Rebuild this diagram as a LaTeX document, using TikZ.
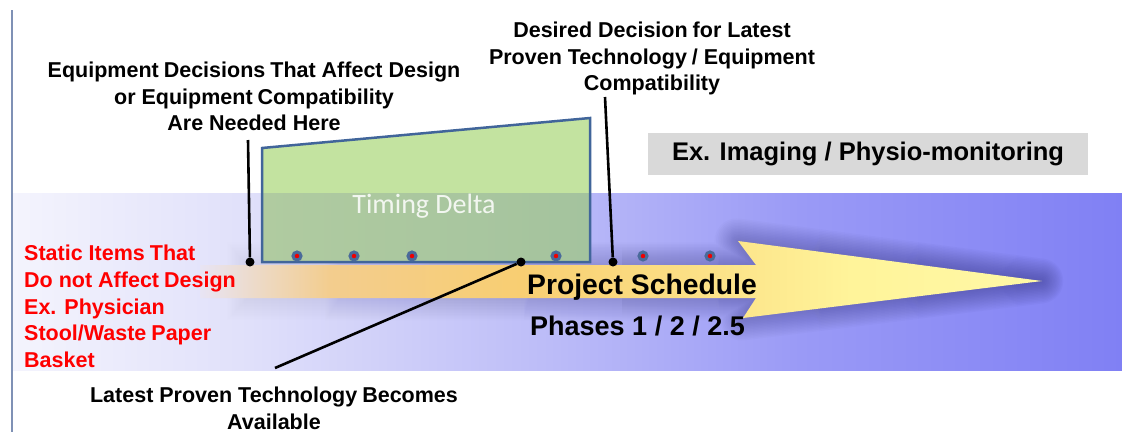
\documentclass[tikz,border=0pt]{standalone}
\usepackage{fontspec}
\setmainfont{Liberation Sans}
\newfontfamily\carlito{Carlito}
\usetikzlibrary{fadings}
\definecolor{bandA}{HTML}{F4F4FD}
\definecolor{bandB}{HTML}{E0E0FA}
\definecolor{bandC}{HTML}{BCBCF8}
\definecolor{bandD}{HTML}{9A9AF6}
\definecolor{bandE}{HTML}{8080F4}
\definecolor{arA}{HTML}{E8E4F4}
\definecolor{arB}{HTML}{F3CD8E}
\definecolor{arC}{HTML}{F8CE72}
\definecolor{arD}{HTML}{FCE389}
\definecolor{arE}{HTML}{FFF49A}
\definecolor{arF}{HTML}{FFF8A6}
\definecolor{boxtop}{HTML}{C3E3A0}
\definecolor{boxlowL}{HTML}{B0CBA0}
\definecolor{boxlowR}{HTML}{A4C39E}
\definecolor{boxedge}{HTML}{41659A}
\definecolor{dotred}{HTML}{F00000}
\definecolor{dotblue}{HTML}{4A6A9A}
\definecolor{shadowc}{HTML}{2A2A72}
\definecolor{leftline}{HTML}{7F91B5}
\definecolor{graybox}{HTML}{D9D9D9}
\definecolor{txtred}{HTML}{FF0000}
\pgfdeclarehorizontalshading{bandshade}{100bp}{color(0bp)=(bandA); color(25bp)=(bandA); color(35.7bp)=(bandB); color(49.2bp)=(bandC); color(60.5bp)=(bandD); color(75bp)=(bandE); color(100bp)=(bandE)}
\pgfdeclarehorizontalshading{arrowshade}{100bp}{color(0bp)=(arA); color(25bp)=(arA); color(32.7bp)=(arB); color(44bp)=(arC); color(56bp)=(arD); color(63.7bp)=(arE); color(75bp)=(arF); color(100bp)=(arF)}
\tikzfading[name=shfade, left color=transparent!100, middle color=transparent!25, right color=transparent!0]
\tikzset{
  note/.style={font=\bfseries\fontsize{21.5}{26.5}\selectfont, align=center, inner sep=0pt, text=black},
  rednote/.style={font=\bfseries\fontsize{21.5}{26.7}\selectfont, align=left, inner sep=0pt, text=txtred},
  eventdot/.style={circle, fill=dotred, draw=dotblue, line width=3pt, inner sep=0pt, minimum size=8pt},
  blackdot/.style={circle, fill=black, inner sep=0pt, minimum size=9pt},
  leader/.style={draw=black, line width=2.6pt},
  boxline/.style={draw=boxedge, line width=2.5pt, line join=miter},
}
\newcommand{\wsp}{\hspace{5pt}}
\begin{document}
\begin{tikzpicture}[x=1pt,y=-1pt]
\useasboundingbox (0,0) rectangle (1122,432);
\fill[white] (0,0) rectangle (1122,432);
% background band
\shade[shading=bandshade] (12,193) rectangle (1122,370);
% left rule
\draw[leftline, line width=1.5pt] (12,10) -- (12,432);
% arrow shadow (soft glow built from many faint strokes)
\foreach \w in {3,6,...,45} {
  \draw[line width=\w pt, draw=shadowc, draw opacity=0.035, line join=round, path fading=shfade]
    (200,265) -- (756,265) -- (738,241) -- (1042,281) -- (743,318) -- (756,298) -- (200,298) -- cycle;
}
% arrow
\shade[shading=arrowshade]
  (200,265) -- (756,265) -- (738,241) -- (1042,281) -- (743,318) -- (756,298) -- (200,298) -- cycle;
% timing delta box
\begin{scope}
  \clip (0,0) rectangle (1122,193);
  \fill[boxtop] (262,148) -- (590,118) -- (590,262) -- (262,262) -- cycle;
\end{scope}
\begin{scope}
  \clip (0,193) rectangle (1122,432);
  \shade[left color=boxlowL, right color=boxlowR] (262,148) -- (590,118) -- (590,262) -- (262,262) -- cycle;
\end{scope}
\draw[boxline] (262,148) -- (590,118) -- (590,262) -- (262,262) -- cycle;
\node[font=\carlito\fontsize{28}{32}\selectfont, text=white, text opacity=0.85, inner sep=0pt] (td) at (424,206) {Timing Delta};
% event dots
\foreach \x [count=\i] in {297,354,412,556,643,710} {
  \node[eventdot] (ev\i) at (\x,256) {};
}
% gray example box
\node[fill=graybox, minimum width=440pt, minimum height=42pt, inner sep=0pt,
      font=\bfseries\fontsize{25.5}{30}\selectfont] (ex) at (868,154) {Ex. Imaging / Physio-monitoring};
% annotation texts
\node[note, anchor=north] (equip) at (254,62) {Equipment\wsp Decisions\wsp That Affect Design\\or Equipment\wsp Compatibility\\Are Needed Here};
\node[note, anchor=north] (desired) at (652,22) {Desired Decision\wsp for Latest\\Proven Technology\wsp / Equipment\\Compatibility};
\node[rednote, anchor=north west] (static) at (24,245) {Static Items\wsp That\\Do not Affect\wsp Design\\Ex. Physician\\Stool/Waste\wsp Paper\\Basket};
\node[note, anchor=north] (latest) at (274,387) {Latest Proven Technology\wsp Becomes\\Available};
\node[font=\bfseries\fontsize{28.3}{32}\selectfont, anchor=base west, inner sep=0pt] (ps) at (527,294) {Project Schedule};
\node[font=\bfseries\fontsize{27}{32}\selectfont, anchor=base west, inner sep=0pt] (ph) at (530,335) {Phases 1 / 2 / 2.5};
% leader lines
\coordinate (c1) at (248,140);
\coordinate (c2) at (605,97);
\coordinate (c3) at (275,368);
\node[blackdot] (b1) at (250,262) {};
\node[blackdot] (b2) at (613,262) {};
\node[blackdot] (b3) at (521,262) {};
\draw[leader] (c1) -- (b1);
\draw[leader] (c2) -- (b2);
\draw[leader] (c3) -- (b3);
\end{tikzpicture}
\end{document}
